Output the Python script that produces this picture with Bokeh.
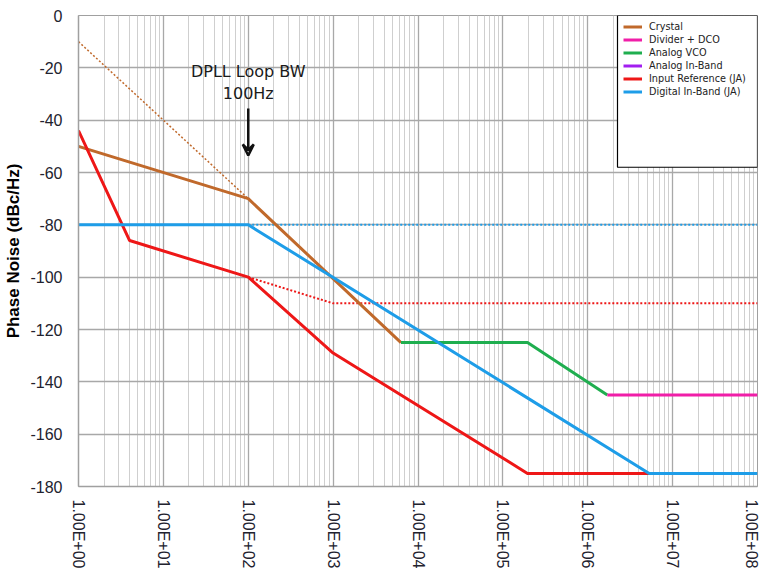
import math
from bokeh.plotting import figure
from bokeh.models import (FixedTicker, Legend, LegendItem, Label, Arrow, VeeHead,
                          BoxAnnotation, Range1d)
from bokeh.embed import file_html
from bokeh.resources import INLINE

nan = float("nan")

# ---- data ----
crystal_f = [1, 100, 6300]
crystal_db = [-50, -70, -125]
crystal_dot_f = [1, 100]
crystal_dot_db = [-10, -70]

inref_f = [1, 4, 100, 1000, 1.95e5, 5.3e6]
inref_db = [-44, -86, -100, -129, -175, -175]
inref_dot_f = [100, 1000, 1e8]
inref_dot_db = [-100, -110, -110]

digital_f = [1, 100, 5.3e6, 1e8]
digital_db = [-80, -80, -175, -175]
digital_dot_f = [100, 1e8]
digital_dot_db = [-80, -80]

vco_f = [6300, 1.95e5, 1.7e6]
vco_db = [-125, -125, -145]

dco_f = [1.7e6, 1e8]
dco_db = [-145, -145]

# Analog In-Band is listed in the legend but not visible in the plot
inband_f = [1, 1e8]
inband_db = [nan, nan]

x_ticks = [1, 10, 100, 1000, 1e4, 1e5, 1e6, 1e7, 1e8]
x_tick_labels = ["1.00E+00", "1.00E+01", "1.00E+02", "1.00E+03", "1.00E+04",
                 "1.00E+05", "1.00E+06", "1.00E+07", "1.00E+08"]
y_ticks = [0, -20, -40, -60, -80, -100, -120, -140, -160, -180]
y_tick_labels = ["0", "-20", "-40", "-60", "-80", "-100", "-120", "-140",
                 "-160", "-180"]

series_names = ["Crystal", "Divider + DCO", "Analog VCO", "Analog In-Band",
                "Input Reference (JA)", "Digital In-Band (JA)"]

# ---- colours ----
C_CRYSTAL = "#c0692b"
C_DCO = "#f01ea8"
C_VCO = "#1fae4f"
C_INBAND = "#a21ef0"
C_RED = "#ee1717"
C_BLUE = "#1e9de8"

p = figure(width=759, height=576, x_axis_type="log",
           x_range=Range1d(1, 1e8), y_range=Range1d(-180, 0),
           output_backend="svg", toolbar_location=None,
           min_border_left=78, min_border_right=2, min_border_top=15,
           min_border_bottom=90)

p.outline_line_color = "#a0a0a0"
p.background_fill_color = "white"

minor = [k * 10 ** d for d in range(8) for k in range(2, 10)]
p.xaxis.ticker = FixedTicker(ticks=x_ticks, minor_ticks=minor)
p.xaxis.major_label_overrides = {t: l for t, l in zip(x_ticks, x_tick_labels)}
p.xaxis.major_label_orientation = "vertical"
p.yaxis.ticker = FixedTicker(ticks=y_ticks)
p.yaxis.major_label_overrides = {t: l for t, l in zip(y_ticks, y_tick_labels)}

for ax in (p.xaxis[0], p.yaxis[0]):
    ax.major_tick_out = 0
    ax.major_tick_in = 0
    ax.minor_tick_out = 0
    ax.minor_tick_in = 0
    ax.axis_line_color = "#a0a0a0"
    ax.axis_line_width = 1.5
    ax.major_label_text_color = "#22222e"

p.xaxis.major_label_text_font = "Liberation Sans"
p.xaxis.major_label_text_font_size = "16px"
p.xaxis.major_label_standoff = 13

p.yaxis.major_label_text_font = "Liberation Sans"
p.yaxis.major_label_text_font_size = "16px"
p.yaxis.major_label_standoff = 16

p.yaxis.axis_label = "Phase Noise (dBc/Hz)"
p.yaxis.axis_label_text_font = "Liberation Sans"
p.yaxis.axis_label_text_font_size = "17px"
p.yaxis.axis_label_text_font_style = "bold"
p.yaxis.axis_label_text_color = "black"
p.yaxis.axis_label_standoff = 4

p.xgrid.grid_line_color = "#a8a8a8"
p.xgrid.grid_line_width = 1.3
p.xgrid.minor_grid_line_color = "#cfcfcf"
p.xgrid.minor_grid_line_width = 1
p.ygrid.grid_line_color = "#a8a8a8"
p.ygrid.grid_line_width = 1.5

# ---- dotted asymptotes ----
p.line(crystal_dot_f, crystal_dot_db, line_color=C_CRYSTAL, line_width=1.5,
       line_dash="2 2")
p.line(inref_dot_f, inref_dot_db, line_color=C_RED, line_width=2,
       line_dash="2 2")
p.line(digital_dot_f, digital_dot_db, line_color=C_BLUE, line_width=2,
       line_dash="2 2")

# ---- solid curves ----
r_crystal = p.line(crystal_f, crystal_db, line_color=C_CRYSTAL, line_width=3)
r_vco = p.line(vco_f, vco_db, line_color=C_VCO, line_width=3)
r_dco = p.line(dco_f, dco_db, line_color=C_DCO, line_width=3)
r_inband = p.line(inband_f, inband_db, line_color=C_INBAND, line_width=3)
r_red = p.line(inref_f, inref_db, line_color=C_RED, line_width=3)
r_blue = p.line(digital_f, digital_db, line_color=C_BLUE, line_width=3)

# ---- annotation ----
ann_font = "DejaVu Sans"
p.add_layout(Label(x=100, y=-21.4, text="DPLL Loop BW", text_align="center",
                   text_baseline="middle", text_font=ann_font,
                   text_font_size="16px", text_color="#1a1a1a"))
p.add_layout(Label(x=100, y=-29.8, text="100Hz", text_align="center",
                   text_baseline="middle", text_font=ann_font,
                   text_font_size="16px", text_color="#1a1a1a"))
p.add_layout(Arrow(x_start=100, y_start=-35.5, x_end=100, y_end=-53.5,
                   line_color="#111111", line_width=2.5,
                   end=VeeHead(size=11, line_color="#111111", line_width=2.5,
                               fill_color="#111111", fill_alpha=0)))

# ---- legend ----
box = BoxAnnotation(left=10 ** ((617 - 78) / 84.875), right=1e8, top=0,
                    bottom=-58, fill_color="white", fill_alpha=1,
                    line_color="black", line_width=1.2, line_alpha=1)
p.add_layout(box)

renderers = [r_crystal, r_dco, r_vco, r_inband, r_red, r_blue]
items = [LegendItem(label=n, renderers=[r]) for n, r in zip(series_names, renderers)]
legend = Legend(items=items, location=(539, 382), orientation="vertical",
                background_fill_alpha=0, border_line_alpha=0,
                label_text_font=ann_font, label_text_font_size="9.7px",
                label_text_color="#222222", label_height=13, glyph_height=13,
                glyph_width=19, label_standoff=7, spacing=0, padding=6,
                margin=0)
p.add_layout(legend)

open("out.html", "w").write(file_html(p, INLINE))
